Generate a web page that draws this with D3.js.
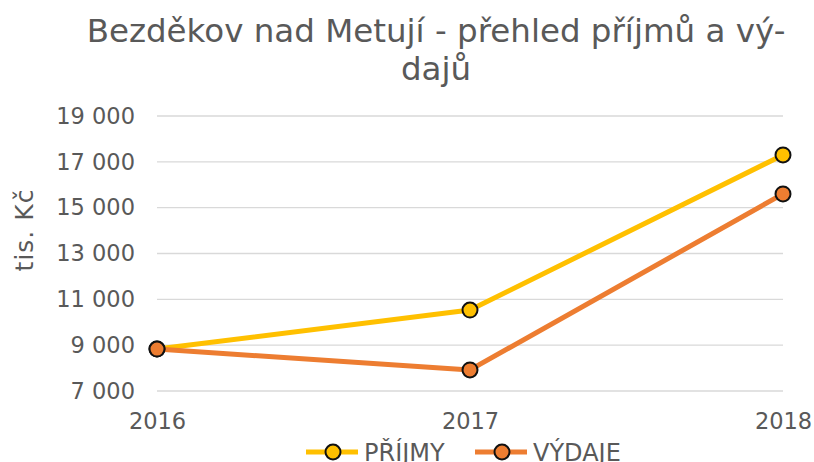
<!DOCTYPE html>
<html><head><meta charset="utf-8">
<script src="https://cdn.jsdelivr.net/npm/d3@7"></script>
<style>body{margin:0;background:#fff}svg{display:block}</style>
</head><body>
<svg id="c" width="814" height="462"></svg>
<script>
const years = ["2016", "2017", "2018"];
const prijmy = [8830, 10530, 17300];
const vydaje = [8830, 7920, 15600];
const seriesNames = ["PŘÍJMY", "VÝDAJE"];
const seriesColors = ["#FFC000", "#ED7D31"];
const yTicks = [7000, 9000, 11000, 13000, 15000, 17000, 19000];
const titleLines = ["Bezděkov nad Metují - přehled příjmů a vý-", "dajů"];
const yTitle = "tis. Kč";

const svg = d3.select("#c");
const font = "DejaVu Sans, Verdana, sans-serif";
const grey = "#595959";

const x = d3.scalePoint().domain(years).range([157, 783]);
const y = d3.scaleLinear().domain([7000, 19000]).range([391, 116]);

// title
svg.append("text").attr("text-anchor", "middle").attr("font-family", font)
  .attr("font-size", 32.5).attr("fill", grey)
  .selectAll("tspan").data(titleLines).join("tspan")
  .attr("x", 436).attr("y", (d, i) => 42 + i * 38).text(d => d);

// gridlines
svg.append("g").selectAll("line").data(yTicks).join("line")
  .attr("x1", 157).attr("x2", 783)
  .attr("y1", d => y(d)).attr("y2", d => y(d))
  .attr("stroke", "#d9d9d9").attr("stroke-width", 1.3);

// y axis
const fmt = d => d3.format(",")(d).replace(/,/g, " ");
const ya = svg.append("g").attr("transform", "translate(157,0)")
  .call(d3.axisLeft(y).tickValues(yTicks).tickFormat(fmt).tickSize(0).tickPadding(22));
ya.select(".domain").remove();
ya.selectAll("text").attr("font-family", font).attr("font-size", 22.5).attr("fill", grey);

// x axis
const xa = svg.append("g").attr("transform", "translate(0,391)")
  .call(d3.axisBottom(x).tickSize(0).tickPadding(22));
xa.select(".domain").remove();
xa.selectAll("text").attr("font-family", font).attr("font-size", 22.5).attr("fill", grey);

// y title
svg.append("text").attr("transform", "translate(33,230) rotate(-90)")
  .attr("text-anchor", "middle").attr("font-family", font).attr("font-size", 25)
  .attr("letter-spacing", 1).attr("fill", grey).text(yTitle);

const data = [prijmy, vydaje];
const line = d3.line().x((d, i) => x(years[i])).y(d => y(d));
data.forEach((s, k) => {
  svg.append("path").datum(s).attr("d", line).attr("fill", "none")
    .attr("stroke", seriesColors[k]).attr("stroke-width", 5).attr("stroke-linejoin", "round");
});
data.forEach((s, k) => {
  svg.append("g").selectAll("circle").data(s).join("circle")
    .attr("cx", (d, i) => x(years[i])).attr("cy", d => y(d)).attr("r", 7.5)
    .attr("fill", seriesColors[k]).attr("stroke", "#111").attr("stroke-width", 2);
});

// legend
const lg = [{x: 306}, {x: 475}];
seriesNames.forEach((n, k) => {
  const g = svg.append("g").attr("transform", `translate(${lg[k].x},452)`);
  g.append("line").attr("x1", 0).attr("x2", 52).attr("stroke", seriesColors[k]).attr("stroke-width", 5);
  g.append("circle").attr("cx", 27).attr("r", 7.5).attr("fill", seriesColors[k]).attr("stroke", "#111").attr("stroke-width", 2);
  g.append("text").attr("x", 58).attr("y", 9).attr("font-family", font).attr("font-size", 24).attr("fill", grey).text(n);
});
</script>
</body></html>
